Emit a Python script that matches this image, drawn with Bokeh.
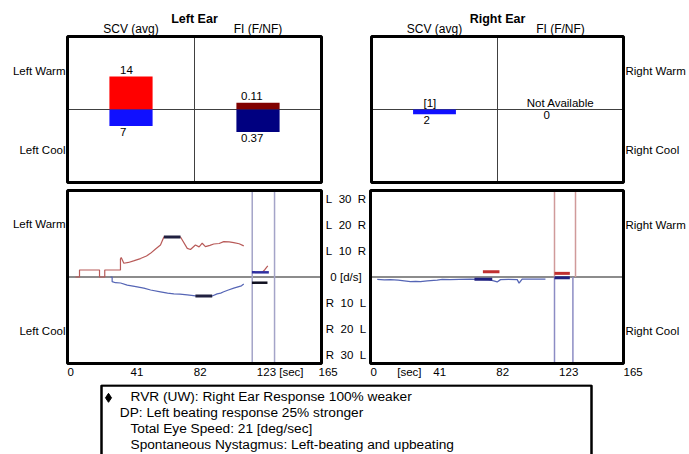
from bokeh.plotting import figure
from bokeh.layouts import column, row
from bokeh.models import Range1d, Label
from bokeh.embed import file_html
from bokeh.resources import INLINE

FONT = "Liberation Sans"
NB = "\u00a0"

# ---------------- data ----------------
column_headers = ["SCV (avg)", "FI (F/NF)"]
left_rows = ["Left Warm", "Left Cool"]
right_rows = ["Right Warm", "Right Cool"]

# summary bars [warm, cool]
left_scv = [14, 7]
left_scv_text = ["14", "7"]
left_fi = [0.11, 0.37]
left_fi_text = ["0.11", "0.37"]
right_scv = [0, 2]
right_scv_text = ["[1]", "2"]
right_fi = [0, 0]
right_fi_text = ["Not Available", "0"]

# slow-phase velocity traces (sec, deg/s)
lw_t = [5.2, 7.8, 7.8, 20.8, 20.8, 24.2, 24.2, 34.4, 34.4, 34.9, 36.6, 39.6, 42.9, 47.4,
        51.3, 53.9, 57.2, 60.4, 62.6, 73.4, 77.8, 79.9, 83.1, 85.5, 87.5, 89.6, 92.5,
        95.0, 98.5, 101.5, 105.0, 108.0, 111.5, 114.5]
lw_v = [0, 0, 2.7, 2.7, 0, 0, 2.7, 2.7, 6.9, 7.5, 5.3, 5.6, 6.2, 7.1,
        8.1, 9.1, 10.8, 12.3, 15.4, 15.4, 11.0, 10.6, 12.3, 11.6, 13.0, 11.7, 12.2,
        12.7, 12.9, 13.6, 13.5, 13.2, 12.8, 12.0]
lc_t = [27.9, 29.0, 29.0, 31.2, 34.5, 38.8, 43.5, 49.6, 54.0, 60.4, 65.0, 69.1, 73.0,
        77.8, 83.1, 94.0, 97.2, 99.5, 101.5, 104.5, 108.0, 111.3, 113.0, 114.5]
lc_v = [0, 0, -1.8, -2.2, -2.3, -3.1, -3.6, -4.3, -5.0, -5.7, -6.2, -6.5, -6.6,
        -6.9, -7.3, -7.3, -6.5, -6.2, -5.7, -5.0, -4.3, -3.7, -3.4, -2.7]
rc_t = [4.4, 9.0, 13.0, 18.0, 22.0, 26.1, 29.5, 32.6, 37.0, 43.5, 46.8, 52.0, 58.0,
        65.2, 71.7, 77.0, 80.4, 82.6, 84.8, 90.0, 95.7, 96.9, 98.9, 105.0, 114.1]
rc_v = [-0.9, -1.1, -1.0, -1.2, -1.5, -1.8, -1.7, -1.8, -1.5, -1.2, -0.9, -1.0, -0.9,
        -0.8, -0.9, -1.0, -1.5, -1.9, -1.0, -0.9, -1.0, -2.4, -0.8, -0.8, -0.8]

# peak (SCV) windows [warm, cool]
left_peak_t0 = [62.6, 83.1]
left_peak_t1 = [73.4, 94.0]
left_peak_v = [15.4, -7.3]
right_peak_t0 = [73.3, 67.8]
right_peak_t1 = [84.1, 79.4]
right_peak_v = [2.0, -0.9]

# fixation windows
left_fix_lines = [120.0, 134.5]
right_fix_warm_lines = [120.0, 133.7]
right_fix_cool_lines = [120.0, 132.0]
left_fix_t0 = [119.8, 119.8]
left_fix_t1 = [130.8, 129.9]
left_fix_v = [1.8, -2.2]
left_fix_trace_t = [126.5, 128.3, 130.1]
left_fix_trace_v = [1.8, 2.9, 4.3]
right_fix_t0 = [120.0, 120.0]
right_fix_t1 = [130.0, 130.0]
right_fix_v = [1.4, -0.3]

time_ticks = [0, 41, 82, 123, 165]
left_time_labels = ["0", "41", "82", "123 [sec]", "165"]
right_time_ticks = [0, 17.4, 41, 82, 123, 165]
right_time_labels = ["0", "[sec]", "41", "82", "123", "165"]
speed_ticks = [30, 20, 10, 0, -10, -20, -30]
speed_labels = [f"L{NB}{NB}30{NB}{NB}R", f"L{NB}{NB}20{NB}{NB}R", f"L{NB}{NB}10{NB}{NB}R",
                "0 [d/s]",
                f"R{NB}{NB}10{NB}{NB}L", f"R{NB}{NB}20{NB}{NB}L", f"R{NB}{NB}30{NB}{NB}L"]

summary_lines = ["RVR (UW): Right Ear Response 100% weaker",
                 "DP: Left beating response 25% stronger",
                 "Total Eye Speed: 21 [deg/sec]",
                 "Spontaneous Nystagmus: Left-beating and upbeating"]

# ---------------- styles / layout ----------------
WARM_BAR, COOL_BAR = "#ff0000", "#1010ff"
WARM_FI, COOL_FI = "#800000", "#000080"
WARM_TRACE, COOL_TRACE = "#b85a58", "#5565b5"
SMALL = 11.5
TIME_LIM = (0, 165)
SPEED_LIM = (-33.3, 33.3)
SCV_LIM = (-31, 31)
FI_LIM = (-1.2, 1.2)
CAT_LIM = (0, 2)


def lab(p, x, y, text, dx=0, dy=0, align="center", size=SMALL, bold=False, yname="default"):
    p.add_layout(Label(x=x, y=y, text=text, x_offset=dx, y_offset=dy + 0.38 * size,
                       text_align=align, text_baseline="alphabetic", text_font=FONT,
                       text_font_size=f"{size}px",
                       text_font_style="bold" if bold else "normal", text_color="black",
                       y_range_name=yname))


def span_range(lim, p0, p1, total, flip=False):
    # range for a canvas of `total` px whose panel [p0, p1] (px) shows lim
    s = (p1 - p0) / (lim[1] - lim[0])
    if flip:  # vertical, pixels measured from top
        return Range1d(lim[0] - (total - p1) / s, lim[1] + p0 / s)
    return Range1d(lim[0] - p0 / s, lim[1] + (total - p1) / s)


def panel_fig(w, h, box, xlim, ylim):
    x0, x1, y0, y1 = box
    p = figure(width=w, height=h, x_range=span_range(xlim, x0, x1, w),
               y_range=span_range(ylim, y0, y1, h, flip=True), toolbar_location=None,
               output_backend="svg", x_axis_location=None, y_axis_location=None,
               min_border=0, min_border_left=0, min_border_right=0,
               min_border_top=0, min_border_bottom=0)
    p.grid.visible = False
    p.outline_line_color = None
    p.background_fill_color = "white"
    p.border_fill_color = "white"
    return p


def frame_box(p, xlim, ylim):
    p.quad(left=[xlim[0]], right=[xlim[1]], bottom=[ylim[0]], top=[ylim[1]],
           fill_color=None, line_color="black", line_width=3)


def top_panel(w, box, title, scv, scv_text, fi, fi_text, rows, right_side):
    p = panel_fig(w, 187, box, CAT_LIM, SCV_LIM)
    p.extra_y_ranges = {"fi": span_range(FI_LIM, box[2], box[3], 187, flip=True)}
    p.segment(x0=[CAT_LIM[0]], x1=[CAT_LIM[1]], y0=[0], y1=[0], line_color="#404040", line_width=1)
    p.segment(x0=[1], x1=[1], y0=[SCV_LIM[0]], y1=[SCV_LIM[1]], line_color="#404040", line_width=1)
    p.vbar(x=[0.5, 0.5], top=[scv[0], 0], bottom=[0, -scv[1]], width=0.34,
           fill_color=[WARM_BAR, COOL_BAR], line_color=None)
    p.vbar(x=[1.5, 1.5], top=[fi[0], 0], bottom=[0, -fi[1]], width=0.34,
           fill_color=[WARM_FI, COOL_FI], line_color=None, y_range_name="fi")
    lab(p, 0.5, scv[0], scv_text[0], dx=-11, dy=2, align="left")
    lab(p, 0.5, -scv[1], scv_text[1], dx=-11, dy=-10, align="left")
    for val, t, dy in [(fi[0], fi_text[0], 2), (-fi[1], fi_text[1], -10)]:
        if t.replace(".", "").isdigit():
            lab(p, 1.5, val, t, dx=-17, dy=dy, align="left", yname="fi")
        else:
            lab(p, 1.5, val, t, dy=dy, align="center", yname="fi")
    lab(p, 1, SCV_LIM[1], title, dy=12.5, size=12.5, bold=True)
    lab(p, 0.5, SCV_LIM[1], column_headers[0], dy=3, size=12)
    lab(p, 1.5, SCV_LIM[1], column_headers[1], dy=3, size=12)
    if right_side:
        lab(p, CAT_LIM[1], 0, rows[0], dx=2, dy=34, align="left")
        lab(p, CAT_LIM[1], 0, rows[1], dx=2, dy=-44.5, align="left")
    else:
        lab(p, CAT_LIM[0], 0, rows[0], dx=-2, dy=34, align="right")
        lab(p, CAT_LIM[0], 0, rows[1], dx=-2, dy=-45, align="right")
    frame_box(p, CAT_LIM, SCV_LIM)
    return p


def bottom_panel(w, box):
    p = panel_fig(w, 197, box, TIME_LIM, SPEED_LIM)
    p.segment(x0=[TIME_LIM[0]], x1=[TIME_LIM[1]], y0=[0], y1=[0], line_color="#8c8c8c", line_width=2)
    return p


tl = top_panel(346, (67, 321, 36, 182), "Left Ear", left_scv, left_scv_text, left_fi,
               left_fi_text, left_rows, False)
tr = top_panel(343, (25, 277, 36, 182), "Right Ear", right_scv, right_scv_text, right_fi,
               right_fi_text, right_rows, True)

# ---- bottom left ----
bl = bottom_panel(368, (67, 321, 3, 176))
bl.segment(x0=left_fix_lines, x1=left_fix_lines, y0=[SPEED_LIM[0]] * 2, y1=[SPEED_LIM[1]] * 2,
           line_color="#a4a4c8", line_width=1.5)
bl.line(lw_t, lw_v, line_color=WARM_TRACE, line_width=1.2)
bl.line(lc_t, lc_v, line_color=COOL_TRACE, line_width=1.2)
bl.segment(x0=left_peak_t0, x1=left_peak_t1, y0=left_peak_v, y1=left_peak_v,
           line_color=["#202040", "#202040"], line_width=3)
bl.line(left_fix_trace_t, left_fix_trace_v, line_color=WARM_TRACE, line_width=1.2)
bl.segment(x0=left_fix_t0, x1=left_fix_t1, y0=left_fix_v, y1=left_fix_v,
           line_color=["#3030a0", "#101020"], line_width=2.5)
lab(bl, TIME_LIM[0], 0, left_rows[0], dx=-2, dy=48.6, align="right")
lab(bl, TIME_LIM[0], 0, left_rows[1], dx=-2, dy=-58.8, align="right")
for t, s in zip(time_ticks, left_time_labels):
    lab(bl, t, SPEED_LIM[0], s, dx=(-3 if t == TIME_LIM[1] else 0), dy=-13, align="left")
for v, s in zip(speed_ticks, speed_labels):
    lab(bl, TIME_LIM[1], v, s, dx=24.5, dy=-4.1, align="center")
frame_box(bl, TIME_LIM, SPEED_LIM)

# ---- bottom right ----
br = bottom_panel(321, (2, 255, 3, 176))
br.segment(x0=right_fix_warm_lines, x1=right_fix_warm_lines, y0=[0, 0], y1=[SPEED_LIM[1]] * 2,
           line_color="#d09a9a", line_width=1.5)
br.segment(x0=right_fix_cool_lines, x1=right_fix_cool_lines, y0=[0, 0], y1=[SPEED_LIM[0]] * 2,
           line_color="#8c8cc4", line_width=1.5)
br.line(rc_t, rc_v, line_color=COOL_TRACE, line_width=1.3)
br.segment(x0=right_peak_t0, x1=right_peak_t1, y0=right_peak_v, y1=right_peak_v,
           line_color=["#c03030", "#202080"], line_width=3)
br.segment(x0=right_fix_t0, x1=right_fix_t1, y0=right_fix_v, y1=right_fix_v,
           line_color=["#c03030", "#202080"], line_width=3)
lab(br, TIME_LIM[1], 0, right_rows[0], dx=2, dy=47.9, align="left")
lab(br, TIME_LIM[1], 0, right_rows[1], dx=2, dy=-58.8, align="left")
for t, s in zip(right_time_ticks, right_time_labels):
    lab(br, t, SPEED_LIM[0], s, dy=-13, align="left")
frame_box(br, TIME_LIM, SPEED_LIM)

# ---- summary box (data units = pixels inside the box, y downwards) ----
BOX_W = 490
txt = figure(width=689, height=70, x_range=Range1d(-101, 588), y_range=Range1d(69, -1),
             toolbar_location=None, output_backend="svg", x_axis_location=None,
             y_axis_location=None, min_border=0, min_border_left=0, min_border_right=0,
             min_border_top=0, min_border_bottom=0)
txt.grid.visible = False
txt.outline_line_color = None
txt.border_fill_color = "white"
bottom_edge = txt.y_range.start
txt.line([0, 0, BOX_W, BOX_W], [bottom_edge, 0, 0, bottom_edge], line_color="black", line_width=2.5)
line_x = [29, 18.3, 29, 29]
line_y = [16.7, 32.6, 48.6, 64.6]
for x, y, s in zip(line_x, line_y, summary_lines):
    lab(txt, x, y, s, align="left", size=13.7)
txt.scatter(x=[7], y=[12.3], marker="diamond", size=9, color="black")

layout = column(row(tl, tr, spacing=0), row(bl, br, spacing=0), txt, spacing=0)
open("out.html", "w").write(file_html(layout, INLINE))
